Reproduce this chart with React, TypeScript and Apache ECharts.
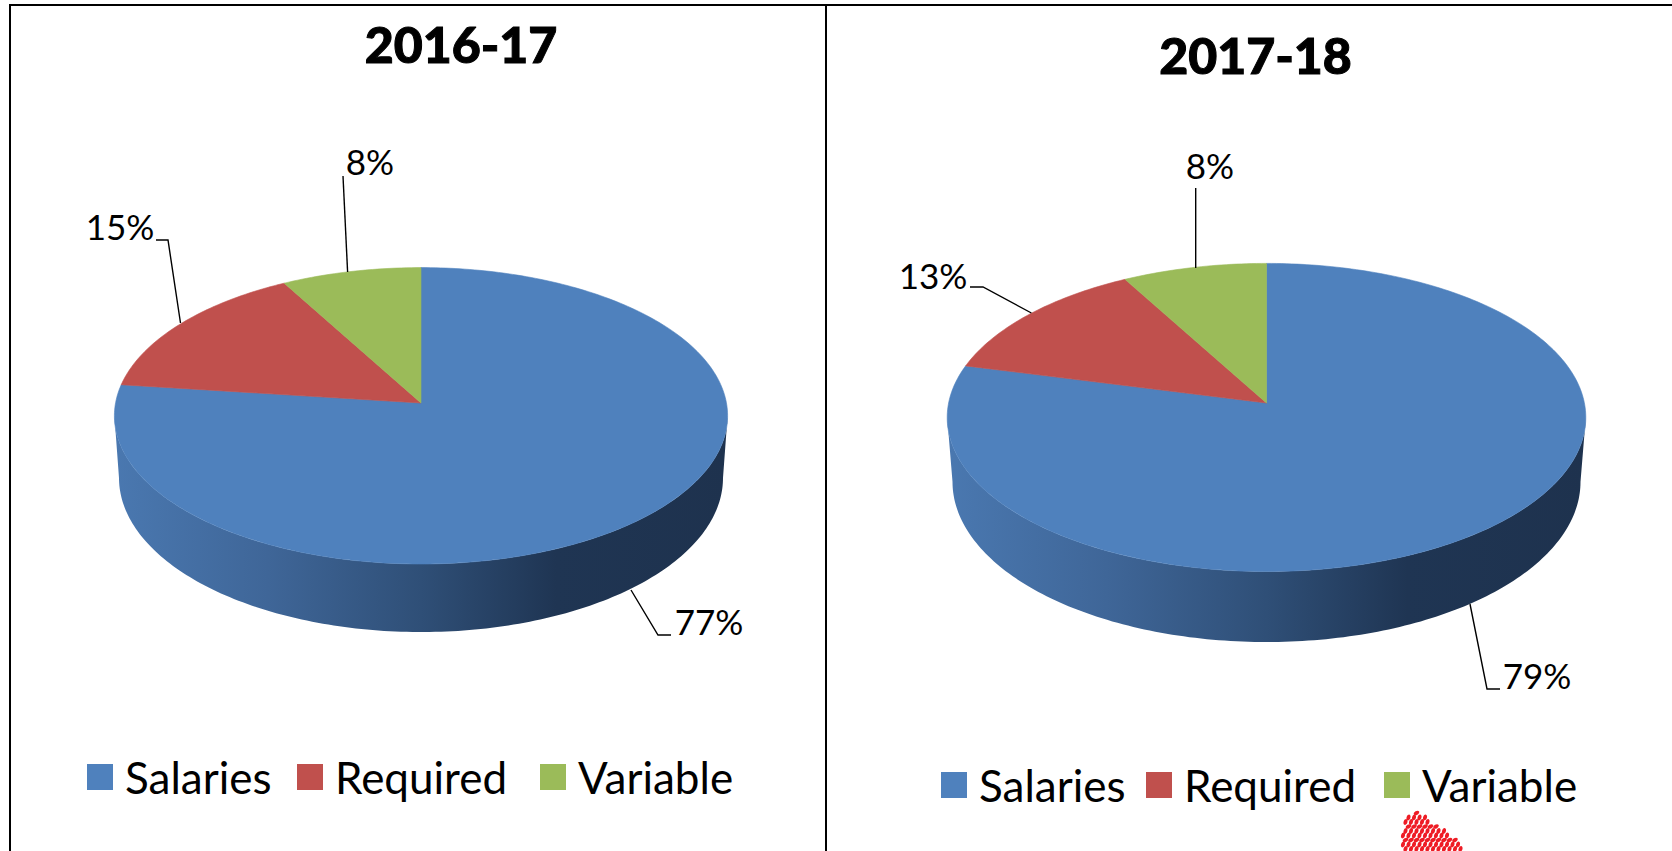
import React, { useEffect, useRef } from "react";
import * as echarts from "echarts";

const categories = ["Salaries", "Required", "Variable"];
const years = ["2016-17", "2017-18"];
const shares2016 = [77, 15, 8];
const shares2017 = [79, 13, 8];
const sharesByYear = [shares2016, shares2017];
const colors = ["#4F81BD", "#C0504D", "#9BBB59"];

const FONT = "Lato";

type Geo = { cx: number; ay: number; top: number; bottom: number; rx: number; rxB: number; depth: number; sy: number };
const geos: Geo[] = [
  { cx: 421, ay: 403, top: 267.6, bottom: 564, rx: 306.6, rxB: 302, depth: 61.6, sy: 1.04 },
  { cx: 1266.5, ay: 403, top: 263.4, bottom: 571.5, rx: 319.3, rxB: 314, depth: 63.8, sy: 1.04 },
];

// label placement: text centre and leader points
const labelLayouts: { x: number; y: number; leader: number[][] }[][] = [
  [
    { x: 709, y: 621, leader: [[631, 590], [658, 635], [671, 635]] },
    { x: 120, y: 226, leader: [[156, 240], [168, 240], [180.5, 323]] },
    { x: 370, y: 161, leader: [[343, 176], [347.6, 272]] },
  ],
  [
    { x: 1537, y: 675, leader: [[1470, 604], [1487, 689], [1500, 689]] },
    { x: 933, y: 275, leader: [[970, 287], [983, 287], [1031.4, 313]] },
    { x: 1210, y: 165, leader: [[1195.7, 188], [1195.7, 268]] },
  ],
];

// legend item placement (left edge of each swatch, top of the row)
const legendLefts = [
  [87, 297, 540],
  [941, 1146, 1384],
];
const legendTops = [750, 758];

const wallGradient = {
  type: "linear", x: 0, y: 0, x2: 1, y2: 0,
  colorStops: [
    { offset: 0, color: "#4A78B0" },
    { offset: 0.25, color: "#3F6698" },
    { offset: 0.5, color: "#2F4F77" },
    { offset: 0.72, color: "#1F3553" },
    { offset: 1, color: "#1E324E" },
  ],
};

function projector(g: Geo) {
  const t = g.ay - g.top;
  const b = g.bottom - g.ay;
  const p = (t - b) / (t + b);
  const B = b * (1 + p);
  const A = g.rx * Math.sqrt(1 - p * p);
  const frontStart = Math.acos(p);
  const pt = (theta: number, lower: boolean) => {
    const x = Math.sin(theta);
    const y = -Math.cos(theta);
    const d = 1 + p * y;
    const X = (A * x) / d;
    const Y = (B * y) / d;
    if (!lower) return [g.cx + X, g.ay + Y];
    return [g.cx + (X * g.rxB) / g.rx, g.ay + Y * g.sy + g.depth];
  };
  return { pt, frontStart };
}

function sweep(from: number, to: number, lower: boolean, pt: (t: number, l: boolean) => number[]) {
  const n = Math.max(2, Math.ceil(Math.abs(to - from) / (Math.PI / 180)));
  const out: number[][] = [];
  for (let i = 0; i <= n; i++) out.push(pt(from + ((to - from) * i) / n, lower));
  return out;
}

function makeSeries(pieIdx: number, catIdx: number) {
  const shares = sharesByYear[pieIdx];
  const before = shares.slice(0, catIdx).reduce((a, b) => a + b, 0);
  const total = shares.reduce((a, b) => a + b, 0);
  const geo = geos[pieIdx];
  const layout = labelLayouts[pieIdx][catIdx];
  return {
    type: "custom",
    name: categories[catIdx],
    coordinateSystem: "none",
    silent: true,
    itemStyle: { color: colors[catIdx] },
    data: [[shares[catIdx]]],
    renderItem: (_params: any, api: any) => {
      const v = api.value(0) as number;
      const { pt, frontStart } = projector(geo);
      const s = (before / total) * Math.PI * 2;
      const e = ((before + v) / total) * Math.PI * 2;
      const children: any[] = [];
      const ws = Math.max(s, frontStart);
      const we = Math.min(e, Math.PI * 2 - frontStart);
      if (we > ws) {
        children.push({
          type: "polygon",
          shape: { points: [...sweep(ws, we, false, pt), ...sweep(we, ws, true, pt)] },
          style: { fill: wallGradient },
        });
      }
      children.push({
        type: "polygon",
        shape: { points: [[geo.cx, geo.ay], ...sweep(s, e, false, pt)] },
        style: { fill: colors[catIdx], stroke: colors[catIdx], lineWidth: 0.6 },
      });
      children.push({
        type: "polyline",
        shape: { points: layout.leader },
        style: { stroke: "#000", lineWidth: 1.4, fill: "none" },
      });
      children.push({
        type: "text",
        style: {
          text: `${v}%`,
          x: layout.x,
          y: layout.y,
          align: "center",
          verticalAlign: "middle",
          fontFamily: FONT,
          fontSize: 35,
          fill: "#000",
        },
      });
      return { type: "group", children };
    },
  };
}

function stipple() {
  const outline = [[1402, 830], [1408, 815], [1420, 812], [1435, 825], [1452, 835], [1465, 851], [1403, 851]];
  const inside = (x: number, y: number) => {
    let c = false;
    for (let i = 0, j = outline.length - 1; i < outline.length; j = i++) {
      const [xi, yi] = outline[i];
      const [xj, yj] = outline[j];
      if (yi > y !== yj > y && x < ((xj - xi) * (y - yi)) / (yj - yi) + xi) c = !c;
    }
    return c;
  };
  const out: any[] = [];
  let row = 0;
  for (let y = 813; y < 855; y += 4.5, row++) {
    for (let x = 1400 + (row % 2) * 3; x < 1468; x += 5.5) {
      if (inside(x, y)) {
        out.push({
          type: "ellipse",
          rotation: row % 3 === 0 ? 0.5 : 1.2,
          x,
          y,
          shape: { cx: 0, cy: 0, rx: 3, ry: 1.9 },
          style: { fill: "#EE1C25" },
        });
      }
    }
  }
  return out;
}

function legendsOf(pieIdx: number) {
  return categories.map((cat, i) => ({
    data: [cat],
    left: legendLefts[pieIdx][i] - 5,
    top: legendTops[pieIdx],
    orient: "horizontal",
    icon: "rect",
    itemWidth: 26,
    itemHeight: 26,
    selectedMode: false,
    textStyle: { fontFamily: FONT, fontSize: 44, color: "#000", padding: [0, 0, 0, 7] },
  }));
}

const titleStyle = {
  fontFamily: FONT,
  fontWeight: 900,
  fontSize: 50,
  color: "#000",
  textBorderColor: "#000",
  textBorderWidth: 1,
};

export default function App() {
  const ref = useRef<HTMLDivElement>(null);
  useEffect(() => {
    const chart = echarts.init(ref.current!, undefined, { renderer: "svg" });
    const series: any[] = [];
    years.forEach((_y, p) => categories.forEach((_c, c) => series.push(makeSeries(p, c))));
    chart.setOption({
      animation: false,
      backgroundColor: "#fff",
      title: [
        { text: years[0], left: 456, top: 14, textAlign: "center", textStyle: titleStyle },
        { text: years[1], left: 1250.5, top: 25, textAlign: "center", textStyle: titleStyle },
      ],
      legend: [...legendsOf(0), ...legendsOf(1)],
      series,
      graphic: [
        { type: "line", shape: { x1: 9, y1: 5, x2: 1672, y2: 5 }, style: { stroke: "#000", lineWidth: 2 } },
        { type: "line", shape: { x1: 10, y1: 4, x2: 10, y2: 851 }, style: { stroke: "#000", lineWidth: 2 } },
        { type: "line", shape: { x1: 826, y1: 4, x2: 826, y2: 851 }, style: { stroke: "#000", lineWidth: 2 } },
        ...stipple(),
      ],
    });
    return () => chart.dispose();
  }, []);
  return <div ref={ref} style={{ position: "fixed", left: 0, top: 0, width: 1672, height: 851 }} />;
}
